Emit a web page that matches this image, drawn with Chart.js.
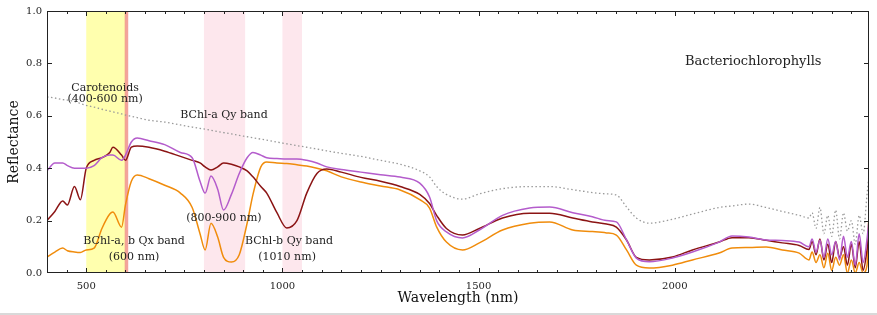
<!DOCTYPE html>
<html>
<head>
<meta charset="utf-8">
<script src="https://cdn.jsdelivr.net/npm/chart.js@4"></script>
<style>
  html, body { margin: 0; padding: 0; background: #fff; }
  #wrap { width: 877px; height: 315px; }
</style>
</head>
<body>
<div id="wrap"><canvas id="spectra" width="877" height="315"></canvas></div>
<script>
// wavelength grid (nm)
var wavelengths = [400, 420, 440, 452, 470, 485, 500, 520, 540, 560, 568, 590, 600, 615, 630, 660,
  700, 740, 770, 790, 803, 818, 835, 850, 870, 890, 910, 925, 945, 960, 986, 1011, 1037, 1062,
  1088, 1113, 1150, 1200, 1250, 1300, 1350, 1375, 1393, 1418, 1459, 1502, 1561, 1630, 1681,
  1740, 1790, 1826, 1851, 1877, 1902, 1935, 1994, 2045, 2113, 2146, 2189, 2233, 2274, 2317,
  2342, 2350, 2360, 2370, 2380, 2390, 2400, 2410, 2420, 2430, 2440, 2450, 2460, 2470, 2480, 2490, 2494];

var purple = [0.39, 0.42, 0.42, 0.41, 0.40, 0.40, 0.40, 0.41, 0.44, 0.45, 0.45, 0.43, 0.45, 0.50, 0.515, 0.505,
  0.49, 0.46, 0.44, 0.35, 0.305, 0.37, 0.32, 0.24, 0.30, 0.38, 0.44, 0.46, 0.45, 0.44, 0.437, 0.435, 0.435, 0.43,
  0.42, 0.405, 0.395, 0.385, 0.375, 0.366, 0.343, 0.29, 0.20, 0.157, 0.134, 0.164, 0.22, 0.248, 0.252,
  0.23, 0.215, 0.20, 0.195, 0.126, 0.057, 0.043, 0.057, 0.08, 0.118, 0.141, 0.137, 0.126, 0.124, 0.118,
  0.10, 0.13, 0.08, 0.125, 0.06, 0.13, 0.07, 0.12, 0.05, 0.14, 0.06, 0.12, 0.03, 0.15, 0.04, 0.13, 0.19];

var darkRed = [0.20, 0.235, 0.275, 0.26, 0.33, 0.28, 0.40, 0.43, 0.44, 0.46, 0.48, 0.45, 0.43, 0.48, 0.485, 0.48,
  0.465, 0.445, 0.43, 0.42, 0.405, 0.393, 0.405, 0.42, 0.415, 0.405, 0.39, 0.367, 0.33, 0.305, 0.23, 0.172, 0.20, 0.305,
  0.38, 0.397, 0.385, 0.365, 0.35, 0.33, 0.30, 0.265, 0.22, 0.17, 0.145, 0.17, 0.21, 0.228, 0.228,
  0.21, 0.195, 0.187, 0.175, 0.126, 0.06, 0.05, 0.061, 0.088, 0.118, 0.135, 0.135, 0.125, 0.115, 0.105,
  0.09, 0.12, 0.07, 0.13, 0.05, 0.11, 0.04, 0.12, 0.06, 0.10, 0.03, 0.11, 0.02, 0.12, 0.01, 0.09, 0.15];

var orange = [0.061, 0.08, 0.095, 0.085, 0.08, 0.078, 0.088, 0.095, 0.17, 0.225, 0.233, 0.175, 0.26, 0.35, 0.374, 0.36,
  0.335, 0.305, 0.25, 0.15, 0.088, 0.19, 0.137, 0.06, 0.042, 0.07, 0.19, 0.30, 0.405, 0.424, 0.42, 0.418, 0.413, 0.408,
  0.40, 0.39, 0.367, 0.347, 0.332, 0.317, 0.28, 0.248, 0.176, 0.118, 0.088, 0.115, 0.164, 0.19, 0.195,
  0.164, 0.158, 0.153, 0.145, 0.088, 0.03, 0.019, 0.03, 0.05, 0.076, 0.095, 0.097, 0.099, 0.088, 0.076,
  0.05, 0.08, 0.04, 0.07, 0.02, 0.075, 0.01, 0.06, 0.03, 0.07, 0.0, 0.05, 0.0, 0.04, 0.0, 0.03, 0.195];

var reference = [0.672, 0.668, 0.662, 0.66, 0.655, 0.647, 0.64, 0.633, 0.625, 0.618, 0.615, 0.607, 0.603, 0.598, 0.593, 0.583,
  0.576, 0.565, 0.557, 0.552, 0.549, 0.545, 0.54, 0.536, 0.531, 0.525, 0.52, 0.516, 0.511, 0.507, 0.5, 0.493, 0.486, 0.48,
  0.473, 0.466, 0.457, 0.445, 0.43, 0.415, 0.39, 0.367, 0.33, 0.3, 0.282, 0.302, 0.322, 0.33, 0.33,
  0.318, 0.307, 0.302, 0.298, 0.252, 0.21, 0.19, 0.205, 0.225, 0.25, 0.256, 0.263, 0.25, 0.235, 0.22,
  0.21, 0.23, 0.17, 0.25, 0.15, 0.22, 0.14, 0.24, 0.13, 0.23, 0.16, 0.2, 0.11, 0.22, 0.15, 0.3, 0.36];

// shaded absorption bands (nm)
var bandStart = [500, 800, 1000, 598];
var bandEnd = [600, 905, 1050, 607];
var bandColors = ['rgba(255,255,160,0.85)', 'rgba(252,215,225,0.6)', 'rgba(252,215,225,0.6)', 'rgba(240,140,130,0.8)'];

// annotation labels (x in nm, y in reflectance)
var noteText = ['Carotenoids', '(400-600 nm)', 'BChl-a Qy band', '(800-900 nm)', 'BChl-a, b Qx band', '(600 nm)',
  'BChl-b Qy band', '(1010 nm)', 'Bacteriochlorophylls'];
var noteX = [548, 548, 851, 851, 622, 622, 1017, 1012, 2200];
var noteY = [0.706, 0.662, 0.603, 0.21, 0.122, 0.061, 0.122, 0.061, 0.805];
var noteSize = [11, 11, 11, 11, 11, 11, 11, 11, 13];

var xTicks = [500, 1000, 1500, 2000];
var serif = "'DejaVu Serif', serif";

function points(vals) {
    return wavelengths.map(function(w, i) { return {x: w, y: vals[i]}; });
}

var decor = {
    id: 'decor',
    beforeDatasetsDraw: function(chart) {
        var ctx = chart.ctx, a = chart.chartArea, xs = chart.scales.x;
        ctx.save();
        for (var i = 0; i < bandStart.length; i++) {
            var x0 = xs.getPixelForValue(bandStart[i]);
            var x1 = xs.getPixelForValue(bandEnd[i]);
            ctx.fillStyle = bandColors[i];
            ctx.fillRect(x0, a.top, x1 - x0, a.bottom - a.top);
        }
        ctx.restore();
    },
    afterDraw: function(chart) {
        var ctx = chart.ctx, a = chart.chartArea, xs = chart.scales.x, ys = chart.scales.y;
        ctx.save();
        // annotations
        ctx.fillStyle = '#222';
        ctx.textAlign = 'center';
        ctx.textBaseline = 'middle';
        for (var i = 0; i < noteText.length; i++) {
            ctx.font = noteSize[i] + 'px ' + serif;
            ctx.fillText(noteText[i], xs.getPixelForValue(noteX[i]), ys.getPixelForValue(noteY[i]));
        }
        // frame
        ctx.strokeStyle = '#222';
        ctx.lineWidth = 1;
        ctx.strokeRect(a.left + 0.5, a.top + 0.5, a.right - a.left - 1, a.bottom - a.top - 1);
        // inward ticks on all four sides
        ctx.beginPath();
        for (var w = 450; w < xs.max; w += 50) {
            var px = Math.round(xs.getPixelForValue(w)) + 0.5;
            var len = (w % 500 === 0) ? 5 : 3;
            ctx.moveTo(px, a.bottom); ctx.lineTo(px, a.bottom - len);
            ctx.moveTo(px, a.top); ctx.lineTo(px, a.top + len);
        }
        for (var v = 0.2; v < 1; v += 0.2) {
            var py = Math.round(ys.getPixelForValue(v)) + 0.5;
            ctx.moveTo(a.left, py); ctx.lineTo(a.left + 5, py);
            ctx.moveTo(a.right, py); ctx.lineTo(a.right - 5, py);
        }
        ctx.stroke();
        // page edge line
        ctx.fillStyle = '#d9d9d9';
        ctx.fillRect(0, 313, chart.width, 2);
        ctx.restore();
    }
};

document.addEventListener("DOMContentLoaded", function() {
    var ctx = document.getElementById('spectra').getContext('2d');
    new Chart(ctx, {
        type: 'line',
        data: {
            datasets: [
                {data: points(purple), borderColor: '#b45ccc', borderWidth: 1.5},
                {data: points(darkRed), borderColor: '#8b1414', borderWidth: 1.5},
                {data: points(orange), borderColor: '#f08c0c', borderWidth: 1.5},
                {data: points(reference), borderColor: '#9a9a9a', borderWidth: 1.3, borderDash: [1.5, 2.5]}
            ]
        },
        options: {
            responsive: false,
            animation: false,
            events: [],
            elements: {
                point: {radius: 0},
                line: {cubicInterpolationMode: 'monotone', fill: false}
            },
            layout: {padding: {top: 11, right: 8, left: 0, bottom: 0}},
            plugins: {legend: {display: false}, tooltip: {enabled: false}},
            scales: {
                x: {
                    type: 'linear',
                    min: 400,
                    max: 2495,
                    grid: {display: false, drawTicks: false},
                    border: {display: false},
                    afterBuildTicks: function(scale) {
                        scale.ticks = xTicks.map(function(v) { return {value: v}; });
                    },
                    afterFit: function(scale) { scale.height = 42; },
                    ticks: {
                        font: {family: serif, size: 10},
                        color: '#222',
                        padding: 7,
                        maxRotation: 0,
                        callback: function(v) { return String(v); }
                    },
                    title: {
                        display: true,
                        text: 'Wavelength (nm)',
                        font: {family: serif, size: 14},
                        color: '#111',
                        padding: {top: 0, bottom: 8}
                    }
                },
                y: {
                    min: 0,
                    max: 1,
                    grid: {display: false, drawTicks: false},
                    border: {display: false},
                    afterFit: function(scale) { scale.width = 47; },
                    ticks: {
                        stepSize: 0.2,
                        font: {family: serif, size: 10},
                        color: '#222',
                        padding: 5,
                        callback: function(v) { return v.toFixed(1); }
                    },
                    title: {
                        display: true,
                        text: 'Reflectance',
                        font: {family: serif, size: 14},
                        color: '#111',
                        padding: {top: 6, bottom: 0}
                    }
                }
            }
        },
        plugins: [decor]
    });
});
</script>
</body>
</html>
